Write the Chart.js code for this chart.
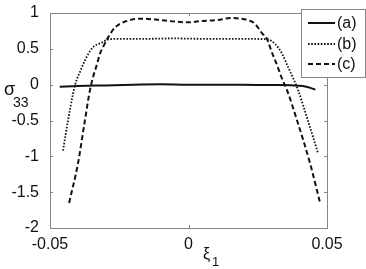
<!DOCTYPE html>
<html>
<head>
<meta charset="utf-8">
<script src="https://cdn.jsdelivr.net/npm/chart.js@4/dist/chart.umd.min.js"></script>
<style>
html,body{margin:0;padding:0;background:#fff;}
#wrap{width:366px;height:269px;}
</style>
</head>
<body>
<div id="wrap"><canvas id="c" width="366" height="269"></canvas></div>
<script>
// ---- data ----
const xTicks = [-0.05, 0, 0.05];
const xTickLabels = ["-0.05", "0", "0.05"];
const yTicks = [-2, -1.5, -1, -0.5, 0, 0.5, 1];
const yTickLabels = ["-2", "-1.5", "-1", "-0.5", "0", "0.5", "1"];
const seriesNames = ["(a)", "(b)", "(c)"];

const xa = [-0.0465, -0.04, -0.03, -0.02, -0.01, 0, 0.01, 0.02, 0.03, 0.038, 0.0413, 0.044, 0.0458];
const ya = [-0.03, -0.02, -0.01, 0.0, 0.005, 0.0, 0.0, 0.0, -0.005, -0.01, -0.02, -0.045, -0.07];

const xb = [-0.0453, -0.0435, -0.0417, -0.041, -0.0385, -0.0366, -0.0345, -0.0312, -0.029, -0.025, -0.015, -0.005, 0.005, 0.015, 0.0283, 0.0312, 0.0338, 0.036, 0.0377, 0.0396, 0.0431, 0.0468];
const yb = [-0.92, -0.5, -0.13, -0.01, 0.24, 0.4, 0.52, 0.59, 0.63, 0.64, 0.64, 0.645, 0.64, 0.64, 0.635, 0.57, 0.43, 0.24, 0.1, -0.08, -0.5, -0.96];

const xc = [-0.0431, -0.0399, -0.0374, -0.0356, -0.0345, -0.033, -0.032, -0.0309, -0.029, -0.0265, -0.0222, -0.0175, -0.012, -0.005, 0, 0.005, 0.01, 0.0155, 0.019, 0.0222, 0.024, 0.0265, 0.0283, 0.0301, 0.032, 0.0338, 0.0356, 0.0392, 0.0439, 0.0475];
const yc = [-1.65, -1.1, -0.5, -0.08, 0.1, 0.29, 0.43, 0.52, 0.66, 0.8, 0.89, 0.92, 0.91, 0.88, 0.87, 0.89, 0.9, 0.93, 0.92, 0.89, 0.85, 0.72, 0.64, 0.45, 0.27, 0.08, -0.08, -0.5, -1.1, -1.65];

const toPts = (xs, ys) => xs.map((x, i) => ({x: x, y: ys[i]}));

const FONT = "'Liberation Sans', Arial, sans-serif";
const INK = '#111';
const AXIS = '#858585';

const frame = {
  id: 'frame',
  afterDraw(chart) {
    const ctx = chart.ctx, a = chart.chartArea;
    const xs = chart.scales.x, ys = chart.scales.y;
    ctx.save();
    ctx.strokeStyle = AXIS; ctx.lineWidth = 1;
    ctx.strokeRect(Math.round(a.left) + 0.5, Math.round(a.top) + 0.5, Math.round(a.right - a.left), Math.round(a.bottom - a.top));
    ctx.beginPath();
    const tl = 3;
    yTicks.forEach(v => {
      const y = Math.round(ys.getPixelForValue(v)) + 0.5;
      ctx.moveTo(a.left, y); ctx.lineTo(a.left + tl, y);
      ctx.moveTo(a.right, y); ctx.lineTo(a.right - tl, y);
    });
    xTicks.forEach(v => {
      const x = Math.round(xs.getPixelForValue(v)) + 0.5;
      ctx.moveTo(x, a.bottom); ctx.lineTo(x, a.bottom - tl);
      ctx.moveTo(x, a.top); ctx.lineTo(x, a.top + tl);
    });
    ctx.stroke();

    // axis titles
    ctx.fillStyle = INK;
    ctx.textBaseline = 'alphabetic';
    ctx.textAlign = 'left';
    ctx.font = '18px ' + FONT;
    ctx.fillText('σ', 4, 95);
    ctx.font = '14px ' + FONT;
    ctx.fillText('33', 13, 107);
    ctx.font = '16px ' + FONT;
    ctx.fillText('ξ', 203, 259);
    ctx.font = '13px ' + FONT;
    ctx.fillText('1', 212, 266);

    // legend
    const lx = 301.5, ly = 9.5, lw = 64, lh = 68;
    ctx.fillStyle = '#fff';
    ctx.fillRect(lx, ly, lw, lh);
    ctx.strokeStyle = AXIS;
    ctx.strokeRect(lx, ly, lw, lh);
    const rows = [23, 44, 64];
    chart.data.datasets.forEach((ds, i) => {
      ctx.beginPath();
      ctx.strokeStyle = ds.borderColor;
      ctx.lineWidth = ds.borderWidth;
      ctx.setLineDash(ds.borderDash || []);
      ctx.moveTo(308, rows[i]); ctx.lineTo(335, rows[i]);
      ctx.stroke();
      ctx.setLineDash([]);
      ctx.fillStyle = INK;
      ctx.font = '16px ' + FONT;
      ctx.textBaseline = 'middle';
      ctx.fillText(ds.label, 337, rows[i] + 1);
    });
    ctx.restore();
  }
};

new Chart(document.getElementById('c'), {
  type: 'line',
  data: {
    datasets: [
      {label: seriesNames[0], data: toPts(xa, ya), borderColor: INK, borderWidth: 2, borderDash: [], pointRadius: 0, cubicInterpolationMode: 'monotone', fill: false},
      {label: seriesNames[1], data: toPts(xb, yb), borderColor: INK, borderWidth: 1.8, borderDash: [1.6, 1.6], pointRadius: 0, cubicInterpolationMode: 'monotone', fill: false},
      {label: seriesNames[2], data: toPts(xc, yc), borderColor: INK, borderWidth: 2, borderDash: [5, 3], pointRadius: 0, cubicInterpolationMode: 'monotone', fill: false}
    ]
  },
  options: {
    responsive: false,
    animation: false,
    devicePixelRatio: 1,
    layout: {padding: {top: 13, right: 39, left: 0, bottom: 0}},
    plugins: {legend: {display: false}, tooltip: {enabled: false}},
    scales: {
      x: {
        type: 'linear', min: -0.05, max: 0.05,
        grid: {display: false}, border: {display: false},
        afterBuildTicks: s => { s.ticks = xTicks.map(v => ({value: v})); },
        afterFit: s => { s.height = 41; },
        ticks: {
          color: INK, font: {family: FONT, size: 16}, padding: -1, maxRotation: 0,
          callback: (v) => { const i = xTicks.indexOf(v); return i >= 0 ? xTickLabels[i] : ''; }
        }
      },
      y: {
        type: 'linear', min: -2, max: 1,
        grid: {display: false}, border: {display: false},
        afterBuildTicks: s => { s.ticks = yTicks.map(v => ({value: v})); },
        afterFit: s => { s.width = 50; },
        ticks: {
          color: INK, font: {family: FONT, size: 16}, padding: 3,
          callback: (v) => { const i = yTicks.indexOf(v); return i >= 0 ? yTickLabels[i] : ''; }
        }
      }
    }
  },
  plugins: [frame]
});
</script>
</body>
</html>
